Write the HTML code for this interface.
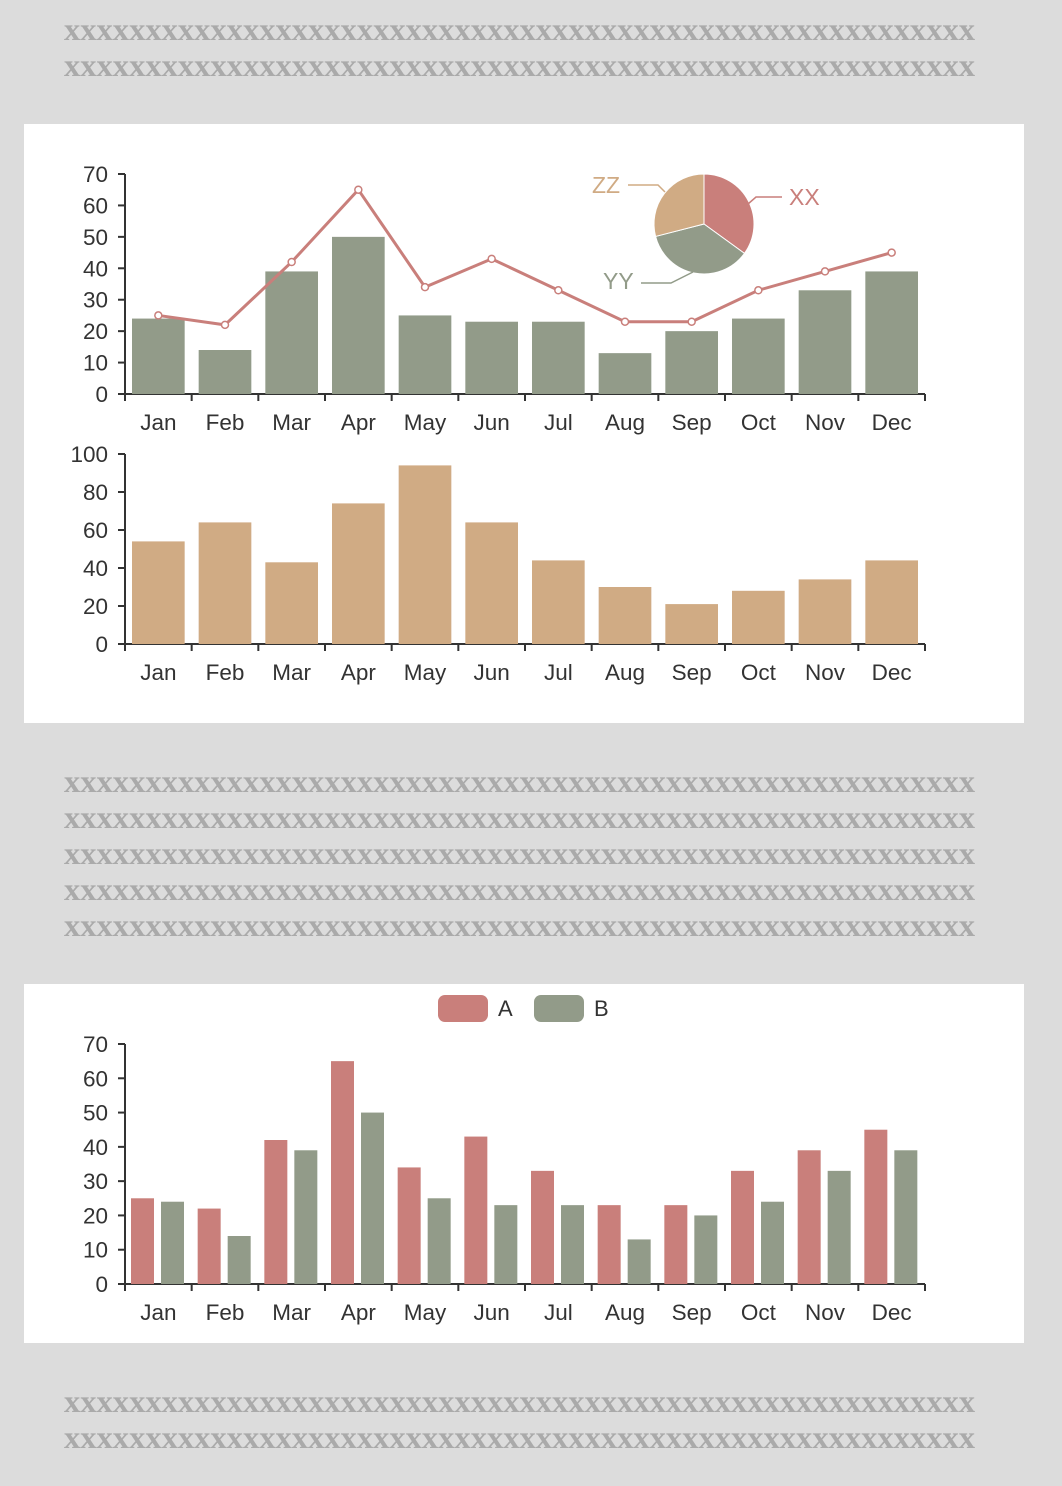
<!DOCTYPE html>
<html><head><meta charset="utf-8">
<style>
html,body{margin:0;padding:0;background:#dcdcdc;}
svg{display:block;}
text{font-family:"Liberation Sans",sans-serif;}
.filler{font-family:"Liberation Serif",serif;font-size:32px;fill:#aaaaaa;font-weight:bold;}
.tick{font-size:22.5px;fill:#333;}
</style></head>
<body>
<svg id="root" width="1062" height="1486" viewBox="0 0 1062 1486" xmlns="http://www.w3.org/2000/svg">
<rect x="0" y="0" width="1062" height="1486" fill="#dcdcdc"/>
<rect x="24" y="124" width="1000" height="599" fill="#fff"/>
<rect x="24" y="984" width="1000" height="359" fill="#fff"/>
<g id="fillers"></g>
<g id="c1"></g>
<g id="pie"></g>
<g id="c2"></g>
<g id="c3"></g>
<g>
  <rect x="438" y="995" width="50" height="27" rx="7" fill="#c97f7b"/>
  <text x="498" y="1016" font-size="22" fill="#333">A</text>
  <rect x="534" y="995" width="50" height="27" rx="7" fill="#929b89"/>
  <text x="594" y="1016" font-size="22" fill="#333">B</text>
</g>
</svg>
<script>
const months = ["Jan","Feb","Mar","Apr","May","Jun","Jul","Aug","Sep","Oct","Nov","Dec"];
const seriesA = [25,22,42,65,34,43,33,23,23,33,39,45];
const seriesB = [24,14,39,50,25,23,23,13,20,24,33,39];
const seriesC = [54,64,43,74,94,64,44,30,21,28,34,44];
const pieLabels = ["XX","YY","ZZ"];
const pieValues = [35,36,29];
const ticks70 = [0,10,20,30,40,50,60,70];
const ticks100 = [0,20,40,60,80,100];

const RED="#c97f7b", GREEN="#929b89", TAN="#d0ab84";
const NS="http://www.w3.org/2000/svg";
function mk(parent, tag, attrs, txt){
  const e=document.createElementNS(NS,tag);
  for(const k in attrs) e.setAttribute(k,attrs[k]);
  if(txt!==undefined) e.textContent=txt;
  parent.appendChild(e); return e;
}

const fillers=document.getElementById('fillers');
[40,76,792,828,864,900,936,1412,1448].forEach(function(y){
  const t=mk(fillers,'text',{x:64,y:y,'class':'filler',textLength:911,lengthAdjust:'spacingAndGlyphs'},"x".repeat(56));
  
  
});

const X0=125, X1=925, BW=(X1-X0)/12;
function xBand(i){return X0+i*BW;}

function axes(g, y0, yTop, maxV, ticks, labelY){
  const sy=v=>y0-(v/maxV)*(y0-yTop);
  const ax=mk(g,'path',{d:`M${X0} ${yTop}V${y0}H${X1}`,stroke:'#333','stroke-width':2,fill:'none'});
  
  
  ticks.forEach(function(v){
    const y=sy(v);
    mk(g,'line',{x1:X0-7,x2:X0,y1:y,y2:y,stroke:'#333','stroke-width':2});
    const t=mk(g,'text',{x:X0-17,y:y+8,'class':'tick','text-anchor':'end'},String(v));
    
    
  });
  for(let i=0;i<=12;i++){
    mk(g,'line',{x1:xBand(i),x2:xBand(i),y1:y0,y2:y0+7,stroke:'#333','stroke-width':2});
  }
  months.forEach(function(m,i){
    const t=mk(g,'text',{x:xBand(i)+BW/2,y:labelY,'class':'tick','text-anchor':'middle'},m);
    
    
  });
  return sy;
}

const c1=document.getElementById('c1');
const sy1=axes(c1,394,174,70,ticks70,430);
seriesB.forEach(function(v,i){
  const r=mk(c1,'rect',{x:xBand(i)+7,y:sy1(v),width:BW-14,height:394-sy1(v),fill:GREEN});
  
  
});
const pts=seriesA.map((v,i)=>[xBand(i)+BW/2,sy1(v)]);
const ln=mk(c1,'polyline',{points:pts.map(p=>p.join(',')).join(' '),fill:'none',stroke:RED,'stroke-width':3});


pts.forEach(function(p,i){
  const c=mk(c1,'circle',{cx:p[0],cy:p[1],r:3.5,fill:'#fff',stroke:RED,'stroke-width':1.5});
  
  
});

const pie=document.getElementById('pie');
const cx=704, cy=224, R=50;
const pieColors=[RED,GREEN,TAN];
const total=pieValues.reduce((a,b)=>a+b,0);
let a0=0;
pieValues.forEach(function(v,i){
  const a1=a0+v/total*2*Math.PI;
  const p0=[cx+R*Math.sin(a0),cy-R*Math.cos(a0)], p1=[cx+R*Math.sin(a1),cy-R*Math.cos(a1)];
  const large=(a1-a0)>Math.PI?1:0;
  const s=mk(pie,'path',{d:`M${cx} ${cy}L${p0[0]} ${p0[1]}A${R} ${R} 0 ${large} 1 ${p1[0]} ${p1[1]}Z`,fill:pieColors[i],stroke:'#fff','stroke-width':1});
  
  
  a0=a1;
});
mk(pie,'polyline',{points:'748,204 756,197 782,197',fill:'none',stroke:RED,'stroke-width':1.5});
mk(pie,'polyline',{points:'628,185 658,185 665,192',fill:'none',stroke:TAN,'stroke-width':1.5});
mk(pie,'polyline',{points:'641,283 671,283 693,272',fill:'none',stroke:GREEN,'stroke-width':1.5});
[["XX",789,205,RED],["ZZ",592,193,TAN],["YY",603,289,GREEN]].forEach(function(d){
  const t=mk(pie,'text',{x:d[1],y:d[2],'font-size':23,fill:d[3]},d[0]);
  
  
});

const c2=document.getElementById('c2');
const sy2=axes(c2,644,454,100,ticks100,680);
seriesC.forEach(function(v,i){
  const r=mk(c2,'rect',{x:xBand(i)+7,y:sy2(v),width:BW-14,height:644-sy2(v),fill:TAN});
  
  
});

const c3=document.getElementById('c3');
const sy3=axes(c3,1284,1044,70,ticks70,1320);
months.forEach(function(m,i){
  const ra=mk(c3,'rect',{x:xBand(i)+6,y:sy3(seriesA[i]),width:23,height:1284-sy3(seriesA[i]),fill:RED});
  
  
  const rb=mk(c3,'rect',{x:xBand(i)+36,y:sy3(seriesB[i]),width:23,height:1284-sy3(seriesB[i]),fill:GREEN});
  
  
});
</script>
</body></html>
